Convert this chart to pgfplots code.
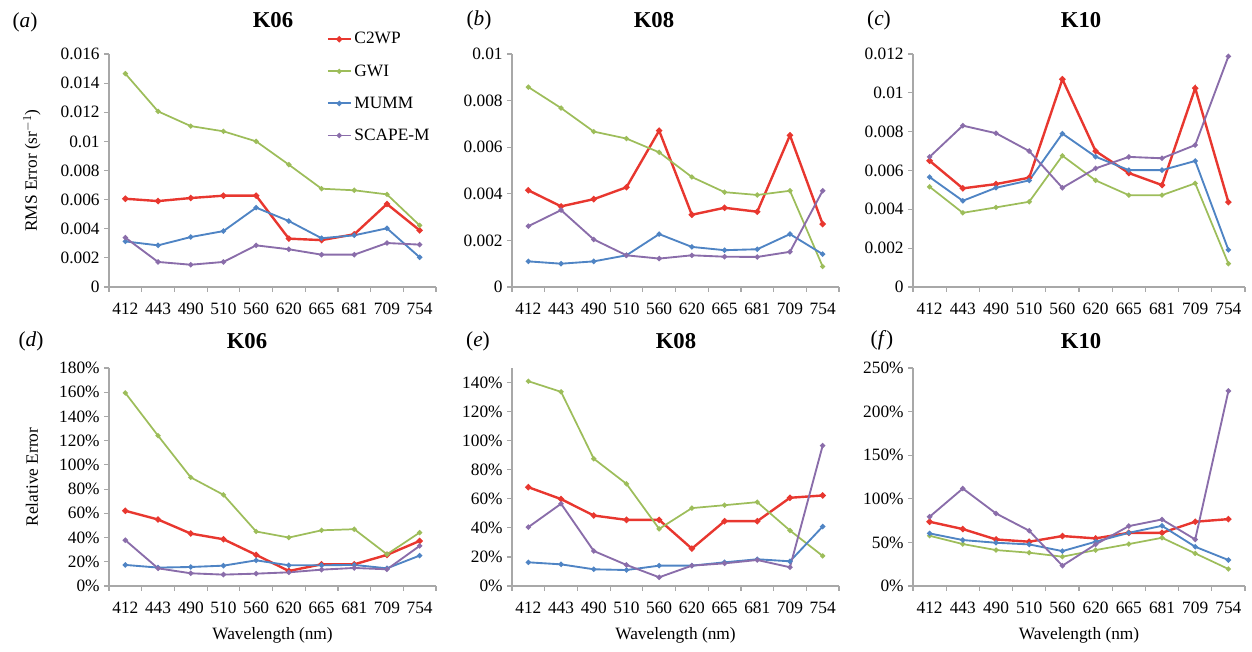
\documentclass[border=0pt]{standalone}
\usepackage{pgfplots}
\pgfplotsset{compat=1.18}
\usepackage{pgfplotstable}
\usepackage{fontspec}
\setmainfont{Liberation Serif}

\definecolor{cR}{HTML}{E8372F}
\definecolor{cG}{HTML}{9DBD5A}
\definecolor{cB}{HTML}{4F84C4}
\definecolor{cP}{HTML}{8A6DAA}
\definecolor{axgray}{HTML}{A8A8A8}

% x: 0..9 = 412 443 490 510 560 620 665 681 709 754
\pgfplotstableread{
x c2wp gwi mumm scape
0 0.00606 0.01465 0.00313 0.00339
1 0.00590 0.01206 0.00286 0.00172
2 0.00611 0.01105 0.00343 0.00153
3 0.00627 0.01069 0.00384 0.00172
4 0.00627 0.01000 0.00545 0.00286
5 0.00332 0.00840 0.00453 0.00259
6 0.00322 0.00675 0.00335 0.00222
7 0.00362 0.00664 0.00355 0.00222
8 0.00570 0.00636 0.00403 0.00302
9 0.00389 0.00423 0.00204 0.00291
}\tA
\pgfplotstableread{
x c2wp gwi mumm scape
0 0.00415 0.00858 0.00110 0.00261
1 0.00346 0.00768 0.00100 0.00330
2 0.00377 0.00667 0.00110 0.00204
3 0.00428 0.00637 0.00136 0.00136
4 0.00671 0.00578 0.00227 0.00122
5 0.00310 0.00472 0.00172 0.00136
6 0.00340 0.00407 0.00158 0.00130
7 0.00323 0.00395 0.00162 0.00129
8 0.00651 0.00413 0.00227 0.00151
9 0.00270 0.00088 0.00141 0.00413
}\tB
\pgfplotstableread{
x c2wp gwi mumm scape
0 0.00650 0.00516 0.00566 0.00670
1 0.00508 0.00382 0.00444 0.00831
2 0.00530 0.00410 0.00511 0.00792
3 0.00563 0.00439 0.00549 0.00700
4 0.01070 0.00676 0.00790 0.00511
5 0.00700 0.00549 0.00671 0.00611
6 0.00587 0.00473 0.00602 0.00670
7 0.00525 0.00473 0.00602 0.00663
8 0.01024 0.00534 0.00649 0.00731
9 0.00437 0.00120 0.00191 0.01188
}\tC
\pgfplotstableread{
x c2wp gwi mumm scape
0 62.1 159.4 17.4 37.8
1 54.9 124.1 15.2 14.6
2 43.3 89.7 15.7 10.5
3 38.6 75.3 16.8 9.4
4 25.7 45.0 21.2 10.2
5 12.4 40.0 17.1 11.3
6 17.9 46.0 17.1 13.5
7 17.9 46.9 17.4 14.9
8 25.7 26.2 14.6 13.8
9 37.2 44.1 25.1 33.1
}\tD
\pgfplotstableread{
x c2wp gwi mumm scape
0 68.0 140.9 16.3 40.5
1 59.8 133.6 14.9 56.6
2 48.5 87.6 11.5 24.1
3 45.5 70.3 11.0 14.5
4 45.5 39.3 14.0 6.0
5 25.7 53.6 14.0 14.0
6 44.6 55.6 16.3 15.6
7 44.6 57.7 18.4 17.9
8 60.7 38.2 17.0 12.9
9 62.3 20.7 40.9 96.6
}\tE
\pgfplotstableread{
x c2wp gwi mumm scape
0 73.7 57.6 60.3 79.4
1 65.3 48.1 52.7 111.8
2 53.4 41.2 49.6 83.2
3 50.8 38.2 47.7 63.4
4 57.3 33.6 40.0 23.3
5 54.6 41.2 50.8 47.7
6 61.0 48.1 61.0 68.7
7 61.0 55.3 69.0 76.3
8 73.7 37.4 45.0 53.4
9 76.7 19.5 29.8 223.7
}\tF

\pgfplotsset{
  panel/.style={
    scale only axis, anchor=south west,
    xmin=-0.5, xmax=9.5,
    axis lines*=left,
    axis line style={axgray, line width=0.9pt},
    every tick/.style={axgray, line width=0.9pt},
    tick align=outside,
    major tick length=3.5pt, minor tick length=3.5pt,
    xtick={0,...,9},
    xticklabels={412,443,490,510,560,620,665,681,709,754},
    minor xtick={-0.5,0.5,...,9.5},
    every major x tick/.style={draw=none},
    xtick pos=bottom, ytick pos=left,
    scaled y ticks=false,
    tick label style={font=\fontsize{13}{15}\selectfont},
    /pgf/number format/assume math mode=true,
    xticklabel style={yshift=-5pt},
    every axis y label/.style={at={(axis description cs:-0.2355,0.5)}, rotate=90, anchor=center, font=\fontsize{13}{15}\selectfont},
    every axis x label/.style={at={(axis description cs:0.5,-0.225)}, anchor=center, font=\fontsize{13}{15}\selectfont},
    clip=false,
  },
  sR/.style={cR, line width=1.8pt, mark=*, mark size=1.3pt},
  sG/.style={cG, line width=1.3pt, mark=*, mark size=1.2pt},
  sB/.style={cB, line width=1.4pt, mark=*, mark size=1.2pt},
  sP/.style={cP, line width=1.4pt, mark=*, mark size=1.2pt},
}

\begin{document}
\begin{tikzpicture}
\useasboundingbox (0,0) rectangle (939pt,488.25pt);

% (a)
\begin{axis}[panel, at={(81.75pt,273pt)}, width=245.25pt, height=174.75pt,
  ymin=0, ymax=0.016, ytick={0,0.002,...,0.0161},
  yticklabels={0,0.002,0.004,0.006,0.008,0.01,0.012,0.014,0.016},
  ylabel={RMS Error (sr$^{-1}$)},
  legend style={at={(0.665,1.105)}, anchor=north west, draw=none, fill=none,
    font=\fontsize{13}{15}\selectfont, row sep=10pt, inner sep=0pt,
    /tikz/every even column/.append style={column sep=4pt}},
  legend cell align=left,
  legend image code/.code={\draw[mark repeat=2,mark phase=2,#1] plot coordinates {(0pt,0pt) (8.5pt,0pt) (17pt,0pt)};},
]
\addplot[sR] table[x=x,y=c2wp]{\tA}; \addlegendentry{C2WP}
\addplot[sG] table[x=x,y=gwi]{\tA}; \addlegendentry{GWI}
\addplot[sB] table[x=x,y=mumm]{\tA}; \addlegendentry{MUMM}
\addplot[sP] table[x=x,y=scape]{\tA}; \addlegendentry{SCAPE-M}
\end{axis}

% (b)
\begin{axis}[panel, at={(384pt,273pt)}, width=245.25pt, height=174.75pt,
  ymin=0, ymax=0.01, ytick={0,0.002,...,0.0101},
  yticklabels={0,0.002,0.004,0.006,0.008,0.01}]
\addplot[sR] table[x=x,y=c2wp]{\tB};
\addplot[sG] table[x=x,y=gwi]{\tB};
\addplot[sB] table[x=x,y=mumm]{\tB};
\addplot[sP] table[x=x,y=scape]{\tB};
\end{axis}

% (c)
\begin{axis}[panel, at={(684.75pt,273pt)}, width=249pt, height=174.75pt,
  ymin=0, ymax=0.012, ytick={0,0.002,...,0.0121},
  yticklabels={0,0.002,0.004,0.006,0.008,0.01,0.012}]
\addplot[sR] table[x=x,y=c2wp]{\tC};
\addplot[sG] table[x=x,y=gwi]{\tC};
\addplot[sB] table[x=x,y=mumm]{\tC};
\addplot[sP] table[x=x,y=scape]{\tC};
\end{axis}

% (d)
\begin{axis}[panel, at={(81.75pt,48.75pt)}, width=245.25pt, height=163.5pt,
  ymin=0, ymax=180, ytick={0,20,...,180},
  yticklabels={0\%,20\%,40\%,60\%,80\%,100\%,120\%,140\%,160\%,180\%},
  ylabel={Relative Error}, xlabel={Wavelength (nm)}]
\addplot[sR] table[x=x,y=c2wp]{\tD};
\addplot[sG] table[x=x,y=gwi]{\tD};
\addplot[sB] table[x=x,y=mumm]{\tD};
\addplot[sP] table[x=x,y=scape]{\tD};
\end{axis}

% (e)
\begin{axis}[panel, at={(384pt,48.75pt)}, width=245.25pt, height=163.5pt,
  ymin=0, ymax=150, ytick={0,20,...,140},
  yticklabels={0\%,20\%,40\%,60\%,80\%,100\%,120\%,140\%},
  xlabel={Wavelength (nm)}]
\addplot[sR] table[x=x,y=c2wp]{\tE};
\addplot[sG] table[x=x,y=gwi]{\tE};
\addplot[sB] table[x=x,y=mumm]{\tE};
\addplot[sP] table[x=x,y=scape]{\tE};
\end{axis}

% (f)
\begin{axis}[panel, at={(684.75pt,48.75pt)}, width=249pt, height=163.5pt,
  ymin=0, ymax=250, ytick={0,50,...,250},
  yticklabels={0\%,50\%,100\%,150\%,200\%,250\%},
  xlabel={Wavelength (nm)}]
\addplot[sR] table[x=x,y=c2wp]{\tF};
\addplot[sG] table[x=x,y=gwi]{\tF};
\addplot[sB] table[x=x,y=mumm]{\tF};
\addplot[sP] table[x=x,y=scape]{\tF};
\end{axis}

% titles and panel labels (image px * 0.75pt, y flipped from 651)
\begin{scope}[every node/.style={inner sep=0pt, anchor=center}]
\node[font=\fontsize{17}{19}\selectfont\bfseries] at (204.75pt,473.25pt) {K06};
\node[font=\fontsize{17}{19}\selectfont\bfseries] at (490.5pt,473.25pt) {K08};
\node[font=\fontsize{17}{19}\selectfont\bfseries] at (810.75pt,473.25pt) {K10};
\node[font=\fontsize{17}{19}\selectfont\bfseries] at (185.25pt,232.5pt) {K06};
\node[font=\fontsize{17}{19}\selectfont\bfseries] at (507pt,232.5pt) {K08};
\node[font=\fontsize{17}{19}\selectfont\bfseries] at (810.75pt,232.5pt) {K10};
\node[font=\fontsize{16}{18}\selectfont] at (18.75pt,471.75pt) {(\textit{a})};
\node[font=\fontsize{16}{18}\selectfont] at (359.25pt,473.25pt) {(\textit{b})};
\node[font=\fontsize{16}{18}\selectfont] at (659.25pt,473.25pt) {(\textit{c})};
\node[font=\fontsize{16}{18}\selectfont] at (23.25pt,232.5pt) {(\textit{d})};
\node[font=\fontsize{16}{18}\selectfont] at (358.5pt,232.5pt) {(\textit{e})};
\node[font=\fontsize{16}{18}\selectfont] at (661.5pt,233.25pt) {(\textit{f})};
\end{scope}
\end{tikzpicture}
\end{document}
